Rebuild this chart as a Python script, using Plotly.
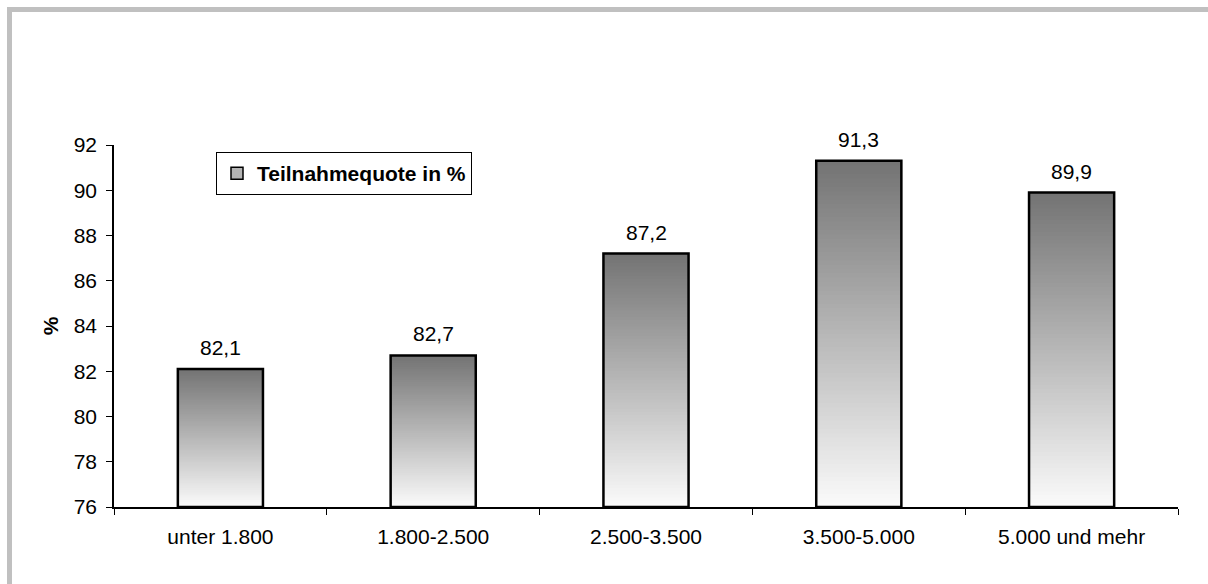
import plotly.graph_objects as go

# Income bands (EUR) and participation rate in percent
categories = ["unter 1.800", "1.800-2.500", "2.500-3.500", "3.500-5.000", "5.000 und mehr"]
values = [82.1, 82.7, 87.2, 91.3, 89.9]
y_ticks = [76, 78, 80, 82, 84, 86, 88, 90, 92]
series_name = "Teilnahmequote in %"

Y_MIN, Y_MAX = 76, 92
FONT = "Arial, Liberation Sans, sans-serif"
FS = 21

# plot area in pixels (used for placing the frame and legend in paper units)
W, H = 1208, 584
L, R, T, B = 114, 30, 145, 77
PW, PH = W - L - R, H - T - B


def px_to_paper_x(px):
    return (px - L) / PW


def px_to_paper_y(py):
    return (H - B - py) / PH


fig = go.Figure()

# Vertical grey gradient inside each bar: stacked overlays from the base,
# each one shorter and lighter than the previous.
N = 80
top_rgb = (0x74, 0x74, 0x74)
bot_rgb = (0xfa, 0xfa, 0xfa)
for i in range(N):
    t = i / (N - 1)
    c = tuple(round(top_rgb[k] + (bot_rgb[k] - top_rgb[k]) * t) for k in range(3))
    frac = (N - i) / N
    fig.add_trace(go.Bar(
        x=categories,
        y=[(v - Y_MIN) * frac for v in values],
        base=[Y_MIN] * len(values),
        marker=dict(color="rgb(%d,%d,%d)" % c, line=dict(width=0)),
        showlegend=False,
        hoverinfo="skip",
    ))

# Black outline of the bars
fig.add_trace(go.Bar(
    x=categories,
    y=[v - Y_MIN for v in values],
    base=[Y_MIN] * len(values),
    marker=dict(color="rgba(0,0,0,0)", line=dict(color="black", width=2.5)),
    showlegend=False,
    customdata=values,
    hovertemplate="%{x}: %{customdata}<extra></extra>",
))

# Legend entry
fig.add_trace(go.Bar(
    x=[categories[0]],
    y=[None],
    name=series_name,
    marker=dict(color="#b4b4b4", line=dict(color="black", width=1.5)),
    showlegend=True,
))

# Value labels above the bars
for cat, v in zip(categories, values):
    fig.add_annotation(
        x=cat, y=v, text=("%.1f" % v).replace(".", ","),
        showarrow=False, yanchor="bottom", yshift=8,
        font=dict(family=FONT, size=FS, color="black"),
    )

# Light grey frame along the top and left edges of the chart
frame = dict(type="line", xref="paper", yref="paper",
             line=dict(color="#c0c0c0", width=5), layer="below")
fig.add_shape(x0=px_to_paper_x(7), x1=px_to_paper_x(W + 50),
              y0=px_to_paper_y(9.5), y1=px_to_paper_y(9.5), **frame)
fig.add_shape(x0=px_to_paper_x(9.5), x1=px_to_paper_x(9.5),
              y0=px_to_paper_y(7), y1=px_to_paper_y(H + 50), **frame)

fig.update_layout(
    width=W, height=H,
    margin=dict(l=L, r=R, t=T, b=B, pad=0),
    paper_bgcolor="white", plot_bgcolor="white",
    barmode="overlay", bargap=0.6,
    font=dict(family=FONT, size=FS, color="black"),
    showlegend=True,
    legend=dict(
        x=px_to_paper_x(216), y=px_to_paper_y(152),
        xanchor="left", yanchor="top",
        bgcolor="white", bordercolor="black", borderwidth=1,
        font=dict(family=FONT, size=FS, color="black", weight="bold"),
        itemwidth=30,
        tracegroupgap=0,
    ),
    xaxis=dict(
        type="category",
        showline=True, linecolor="black", linewidth=1.5,
        ticks="outside", tickson="boundaries", ticklen=6, tickcolor="black",
        showgrid=False, zeroline=False,
        ticklabelstandoff=10,
        tickfont=dict(family=FONT, size=FS, color="black"),
    ),
    yaxis=dict(
        range=[Y_MIN, Y_MAX],
        tickvals=y_ticks,
        showline=True, linecolor="black", linewidth=1.5,
        ticks="outside", ticklen=6, tickcolor="black",
        showgrid=False, zeroline=False,
        ticklabelstandoff=5,
        tickfont=dict(family=FONT, size=FS, color="black"),
        title=dict(text="%", font=dict(family=FONT, size=FS, color="black", weight="bold"),
                   standoff=9),
    ),
)

fig.write_html("out.html")
